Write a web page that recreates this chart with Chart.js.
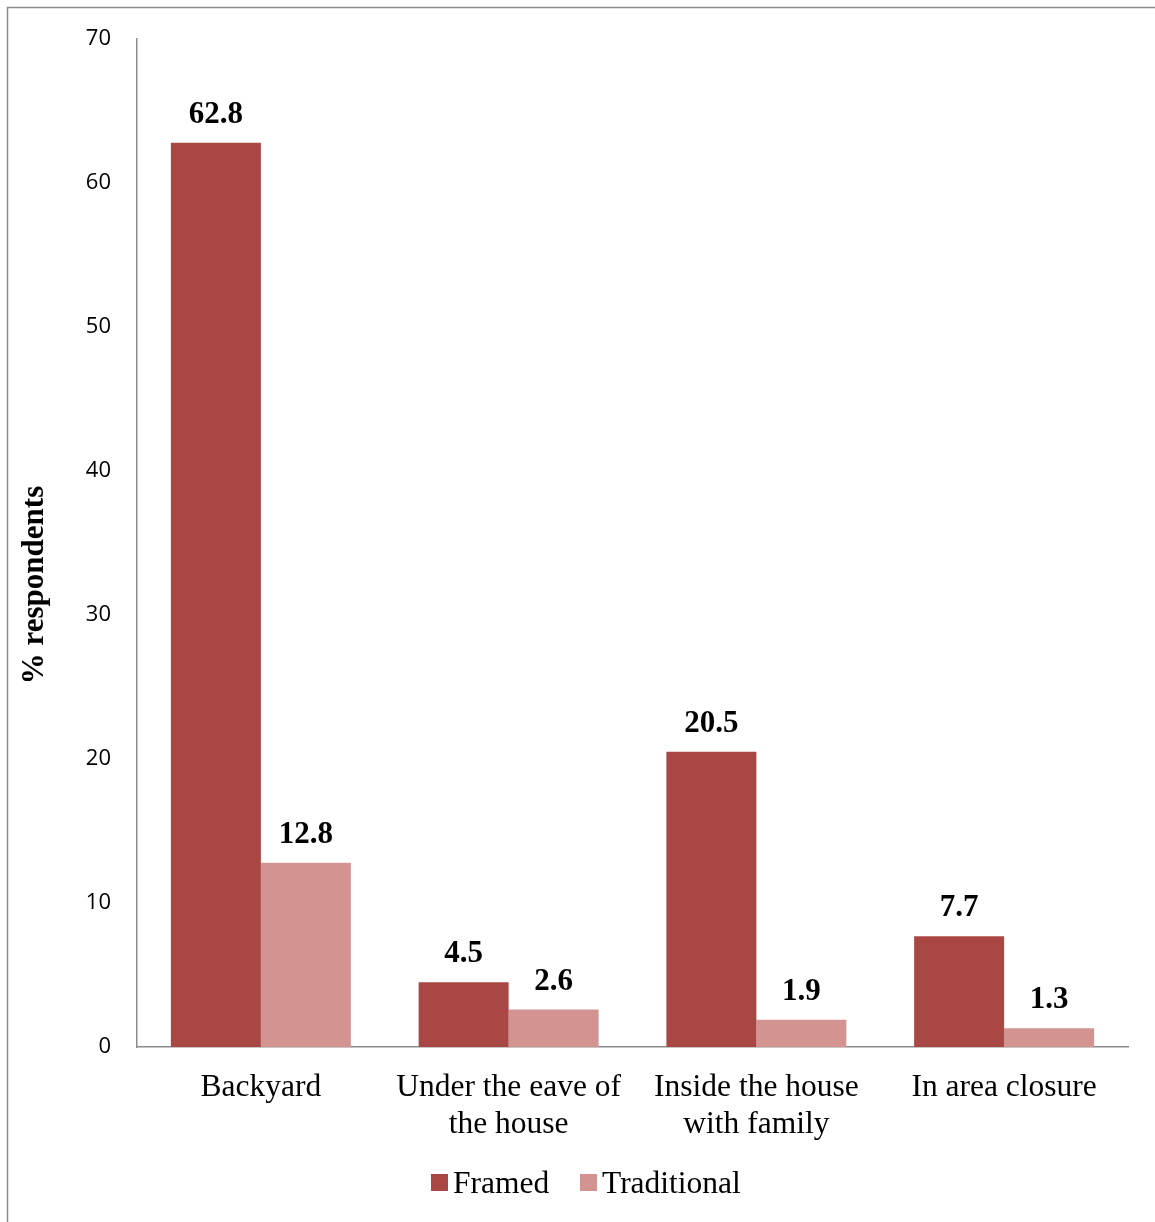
<!DOCTYPE html>
<html>
<head>
<meta charset="utf-8">
<script src="https://cdn.jsdelivr.net/npm/chart.js@4.4.0/dist/chart.umd.min.js"></script>
<style>
  html, body { margin: 0; padding: 0; background: #ffffff; }
  #wrap { position: relative; width: 1155px; height: 1222px; }
</style>
</head>
<body>
<div id="wrap"><canvas id="chart" width="1155" height="1222"></canvas></div>
<script>
// Chart data
const categories = [
    'Backyard',
    ['Under the eave of', 'the house'],
    ['Inside the house', 'with family'],
    'In area closure'
];
const framedValues = [62.8, 4.5, 20.5, 7.7];
const traditionalValues = [12.8, 2.6, 1.9, 1.3];
const seriesNames = ['Framed', 'Traditional'];
const yTicks = [0, 10, 20, 30, 40, 50, 60, 70];

const COLORS = {
    framed: '#A94744',
    traditional: '#D39391',
    axis: '#8C8C8C',
    text: '#000000'
};

const SERIF = "'Liberation Serif', 'Times New Roman', serif";
const SANS = "'Open Sans', 'Liberation Sans', sans-serif";

// Outer frame, value labels, axis title and legend
const decorations = {
    id: 'decorations',
    beforeDraw(chart) {
        const ctx = chart.ctx;
        ctx.save();
        ctx.strokeStyle = COLORS.axis;
        ctx.lineWidth = 1.5;
        ctx.beginPath();
        ctx.moveTo(7.5, 1222);
        ctx.lineTo(7.5, 7.5);
        ctx.lineTo(1155, 7.5);
        ctx.stroke();
        ctx.restore();
    },
    afterDatasetsDraw(chart) {
        const ctx = chart.ctx;
        ctx.save();
        ctx.fillStyle = COLORS.text;
        ctx.font = 'bold 31px ' + SERIF;
        ctx.textAlign = 'center';
        ctx.textBaseline = 'alphabetic';
        chart.data.datasets.forEach((ds, i) => {
            chart.getDatasetMeta(i).data.forEach((bar, j) => {
                ctx.fillText(ds.data[j].toFixed(1), bar.x, bar.y - 20);
            });
        });

        // y axis title
        ctx.save();
        ctx.translate(43, 585);
        ctx.rotate(-Math.PI / 2);
        ctx.font = 'bold 31px ' + SERIF;
        ctx.fillText('% respondents', 0, 0);
        ctx.restore();

        // legend
        ctx.font = '31.5px ' + SERIF;
        ctx.textAlign = 'left';
        const items = [
            { x: 431, color: COLORS.framed, label: seriesNames[0] },
            { x: 580, color: COLORS.traditional, label: seriesNames[1] }
        ];
        items.forEach(it => {
            ctx.fillStyle = it.color;
            ctx.fillRect(it.x, 1174, 17, 17);
            ctx.fillStyle = COLORS.text;
            ctx.fillText(it.label, it.x + 22, 1193);
        });
        ctx.restore();
    }
};

new Chart(document.getElementById('chart'), {
    type: 'bar',
    data: {
        labels: categories,
        datasets: [
            {
                label: seriesNames[0],
                data: framedValues,
                backgroundColor: COLORS.framed,
                borderWidth: 0
            },
            {
                label: seriesNames[1],
                data: traditionalValues,
                backgroundColor: COLORS.traditional,
                borderWidth: 0
            }
        ]
    },
    options: {
        responsive: false,
        animation: false,
        devicePixelRatio: 1,
        layout: { padding: { top: 37, right: 27, bottom: 0, left: 0 } },
        datasets: {
            bar: { categoryPercentage: 0.7265, barPercentage: 1.0 }
        },
        plugins: {
            legend: { display: false },
            tooltip: { enabled: false }
        },
        scales: {
            x: {
                grid: { display: false, drawTicks: false },
                border: { display: true, color: COLORS.axis, width: 1.5 },
                ticks: {
                    color: COLORS.text,
                    padding: 22,
                    maxRotation: 0,
                    autoSkip: false,
                    font: { family: SERIF, size: 31.5, lineHeight: 1.18 }
                },
                afterFit(scale) { scale.height = 175; }
            },
            y: {
                min: 0,
                max: 70,
                afterBuildTicks(scale) {
                    scale.ticks = yTicks.map(v => ({ value: v }));
                },
                grid: { display: false, drawTicks: false },
                border: { display: true, color: COLORS.axis, width: 1.5 },
                ticks: {
                    color: COLORS.text,
                    padding: 26,
                    font: { family: SANS, size: 22 }
                },
                afterFit(scale) { scale.width = 137; }
            }
        }
    },
    plugins: [decorations]
});
</script>
</body>
</html>
